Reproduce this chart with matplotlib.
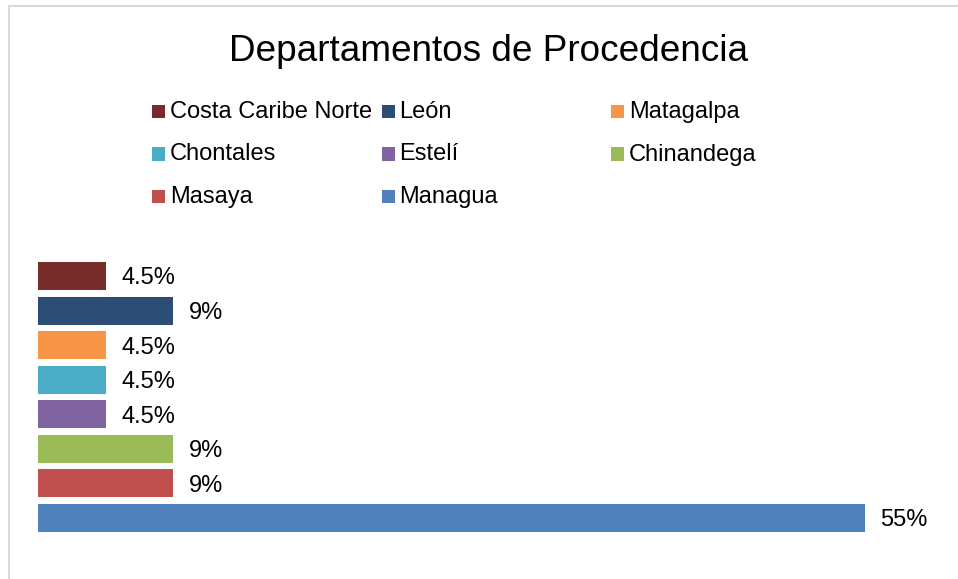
import matplotlib
matplotlib.use("Agg")
import matplotlib.pyplot as plt
from matplotlib.patches import Rectangle

plt.rcParams['font.family'] = ['Liberation Sans', 'DejaVu Sans']

# data, top bar first
departamentos = ["Costa Caribe Norte", "León", "Matagalpa", "Chontales",
                 "Estelí", "Chinandega", "Masaya", "Managua"]
porcentajes = [4.5, 9, 4.5, 4.5, 4.5, 9, 9, 55]
etiquetas = ["4.5%", "9%", "4.5%", "4.5%", "4.5%", "9%", "9%", "55%"]
colores = ["#772C2A", "#2C4D75", "#F79646", "#4BACC6",
           "#8064A2", "#9BBB59", "#C0504D", "#4F81BD"]

W, H = 958, 579
fig = plt.figure(figsize=(W / 100, H / 100), dpi=100)

# light grey chart border (clipped at right and bottom like the source)
fig.add_artist(Rectangle((8.5 / W, -0.1), 1.2, 1 - 6 / H + 0.1,
                         transform=fig.transFigure, fill=False,
                         edgecolor="#d9d9d9", lw=1.5))

fig.text(488.5 / W, 1 - 61 / H, "Departamentos de Procedencia",
         ha="center", va="baseline", fontsize=26.6, color="black")

# legend laid out row by row in 3 columns
for i, (nombre, col) in enumerate(zip(departamentos, colores)):
    fila, columna = divmod(i, 3)
    x0 = 152 + 229.5 * columna
    base = 118 + 42.5 * fila
    fig.add_artist(Rectangle((x0 / W, 1 - base / H), 13 / W, 13 / H,
                             transform=fig.transFigure, facecolor=col,
                             edgecolor="none"))
    fig.text((x0 + 18) / W, 1 - base / H, nombre, ha="left",
             va="baseline", fontsize=17, color="black")

# bars
top_px, pitch = 258.7, 34.57
n = len(departamentos)
bottom_px = top_px + pitch * n
ax = fig.add_axes([38 / W, 1 - bottom_px / H, 827 / W, (bottom_px - top_px) / H])
y = list(range(n))
ax.barh(y, porcentajes, height=0.81, color=colores)
ax.set_xlim(0, 55)
ax.set_ylim(n - 0.5, -0.5)
ax.axis("off")

for yi, v, t in zip(y, porcentajes, etiquetas):
    ax.annotate(t, (v, yi), xytext=(11.2, -6.1), textcoords="offset points",
                ha="left", va="baseline", fontsize=17, color="black",
                annotation_clip=False)

fig.savefig("out.png", dpi=100, facecolor="white")
